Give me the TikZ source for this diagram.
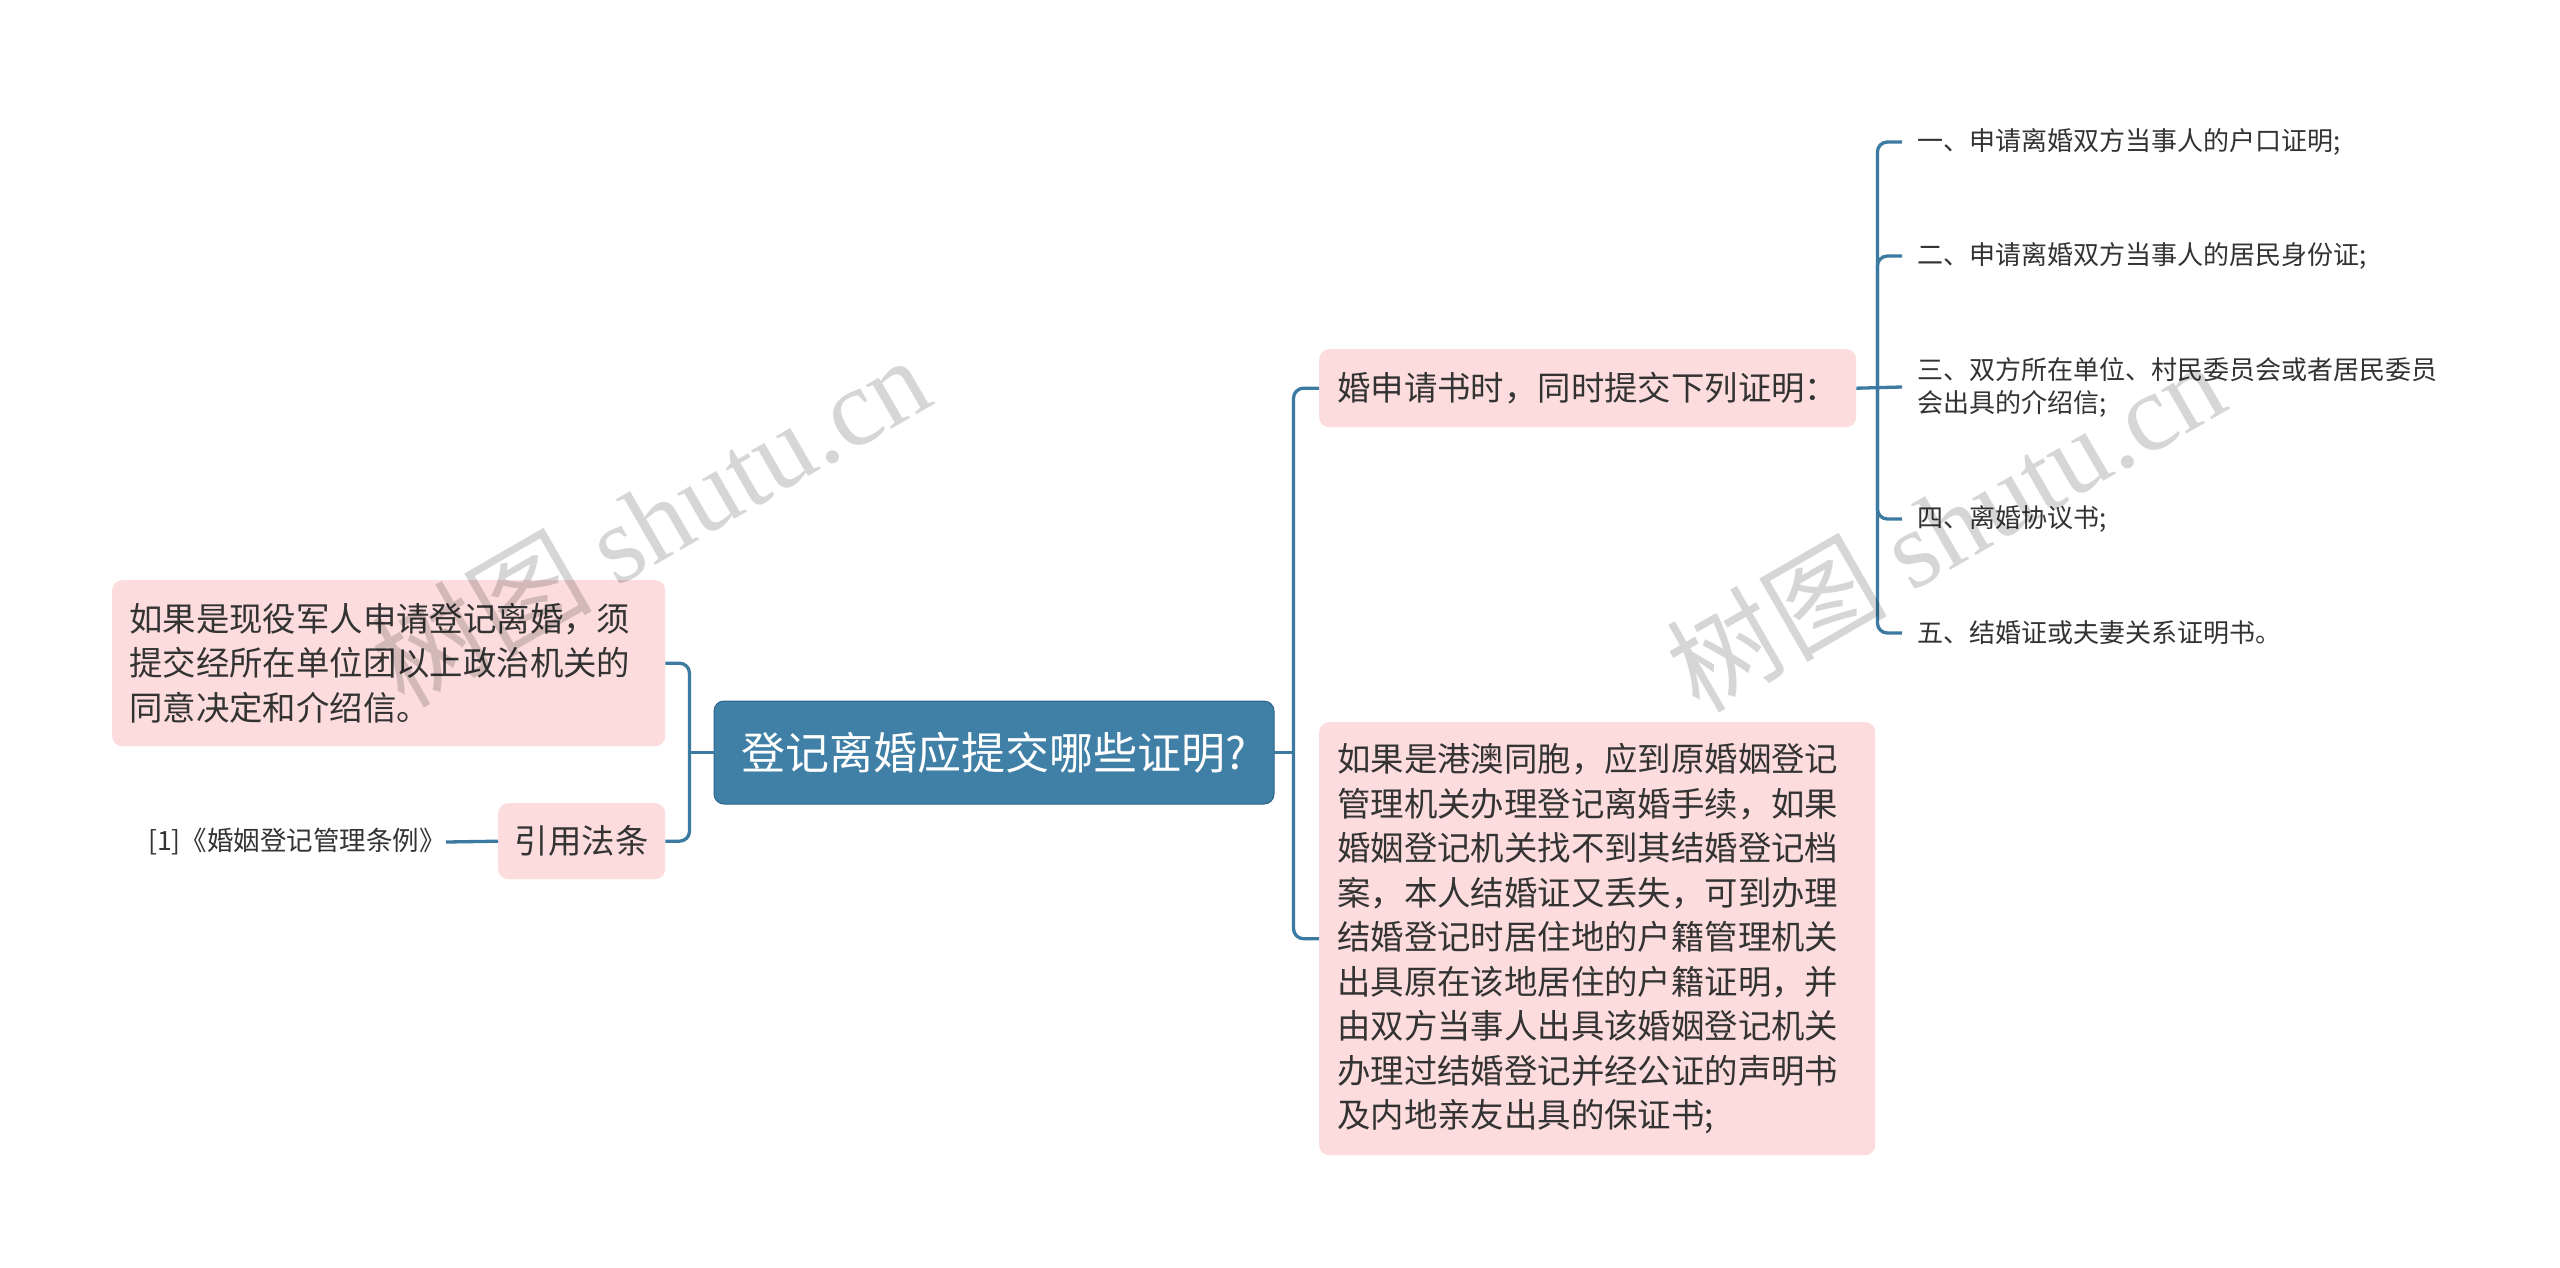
\documentclass[tikz,border=0pt]{standalone}
\usepackage{fontspec}
\setmainfont{Noto Sans CJK SC}
\newfontfamily\wmfont{Liberation Serif}
\definecolor{linkblue}{RGB}{60,122,162}
\definecolor{rootblue}{RGB}{64,128,166}
\definecolor{rootedge}{RGB}{45,100,140}
\definecolor{nodepink}{RGB}{252,220,220}
\definecolor{textgray}{RGB}{51,51,51}

\tikzset{
    link/.style={draw=linkblue, line width=3.3pt, rounded corners=10pt},
    rootbox/.style={fill=rootblue, draw=rootedge, line width=1pt, rounded corners=10pt,
        text=white, inner sep=0pt, minimum width=560pt, minimum height=103pt,
        font=\fontsize{44}{54}\selectfont},
    pinkbox/.style={fill=nodepink, rounded corners=10pt, text=textgray, inner xsep=17pt,
        inner ysep=0pt, align=left, anchor=north west, font=\fontsize{33.4}{44.5}\selectfont},
    itemtext/.style={text=textgray, inner xsep=15pt, inner ysep=0pt, anchor=west,
        align=left, font=\fontsize{26}{33}\selectfont},
    watermark/.style={text=black, opacity=0.16, rotate=30, inner sep=0pt,
        font=\fontsize{110}{120}\selectfont}
}

\begin{document}
\begin{tikzpicture}[x=1pt, y=-1pt]
    \fill[white] (0,0) rectangle (2560,1267);
    \useasboundingbox (0,0) rectangle (2560,1267);

    % Root
    \node[rootbox] (root) at (994, 752.5) {登记离婚应提交哪些证明?};

    % Left branches
    \node[pinkbox, text width=519pt, minimum height=166pt] (mil) at (112, 580)
        {如果是现役军人申请登记离婚，须\\提交经所在单位团以上政治机关的\\同意决定和介绍信。};
    \node[pinkbox, inner xsep=0pt, align=center, minimum width=167pt, minimum height=76pt] (law) at (498, 803)
        {引用法条};
    \node[anchor=east, inner sep=0pt, text=textgray, font=\fontsize{26.5}{30}\selectfont] (cite) at (446, 842)
        {[1]《婚姻登记管理条例》};

    % Right branches
    \node[pinkbox, inner xsep=18pt, text width=501pt, minimum height=78pt] (req) at (1319, 349)
        {婚申请书时，同时提交下列证明：};
    \node[pinkbox, inner xsep=18pt, text width=520pt, minimum height=433pt] (hk) at (1319, 722)
        {如果是港澳同胞，应到原婚姻登记\\管理机关办理登记离婚手续，如果\\婚姻登记机关找不到其结婚登记档\\案，本人结婚证又丢失，可到办理\\结婚登记时居住地的户籍管理机关\\出具原在该地居住的户籍证明，并\\由双方当事人出具该婚姻登记机关\\办理过结婚登记并经公证的声明书\\及内地亲友出具的保证书;};

    % List of documents
    \node[itemtext] (item1) at (1902, 142) {一、申请离婚双方当事人的户口证明;};
    \node[itemtext] (item2) at (1902, 256) {二、申请离婚双方当事人的居民身份证;};
    \node[itemtext] (item3) at (1902, 387) {三、双方所在单位、村民委员会或者居民委员\\会出具的介绍信;};
    \node[itemtext] (item4) at (1902, 519) {四、离婚协议书;};
    \node[itemtext] (item5) at (1902, 633) {五、结婚证或夫妻关系证明书。};

    % Connectors, left side
    \coordinate (lj) at ([xshift=-24pt]root.west);
    \draw[link, line cap=rect] (root.west) -- (lj);
    \draw[link] (lj) |- (mil.east);
    \draw[link] (lj) |- (law.east);
    \draw[link] (cite.east) -- (law.west);

    % Connectors, right side
    \coordinate (rj) at ([xshift=19pt]root.east);
    \draw[link, line cap=rect] (root.east) -- (rj);
    \draw[link] (rj) |- (req.west);
    \draw[link] (rj) |- (hk.west);

    % Connectors to the list
    \coordinate (ij) at ([xshift=21pt]req.east);
    \draw[link] (req.east) -- (item3.west);
    \foreach \i in {1,2,4,5}
        \draw[link] (ij) |- (item\i.west);

    % Watermarks
    \node[watermark] (wm1) at (650, 520) {树图 {\wmfont shutu.cn}};
    \node[watermark] (wm2) at (1945, 525) {树图 {\wmfont shutu.cn}};
\end{tikzpicture}
\end{document}
